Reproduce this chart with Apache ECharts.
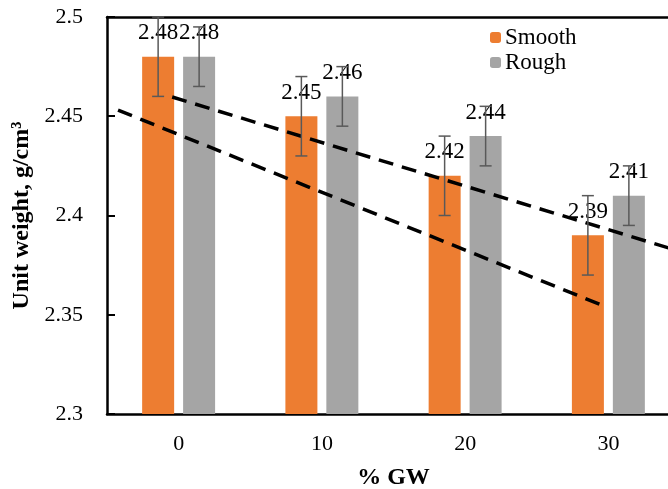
<!DOCTYPE html>
<html>
<head>
<meta charset="utf-8">
<script src="https://cdn.jsdelivr.net/npm/echarts@6/dist/echarts.min.js"></script>
<style>
  html, body { margin: 0; padding: 0; background: #fff; }
  #chart { width: 668px; height: 489px; }
</style>
</head>
<body>
<div id="chart"></div>
<script>
var categories = ['0', '10', '20', '30'];
var smooth = [2.48, 2.45, 2.42, 2.39];
var rough = [2.48, 2.46, 2.44, 2.41];
var smoothErr = [0.02, 0.02, 0.02, 0.02];
var roughErr = [0.015, 0.015, 0.015, 0.015];
// dashed lines, [category position, value]
var upperLine = [[-0.045, 2.4597], [3.423, 2.3836]];
var lowerLine = [[-0.423, 2.4531], [2.969, 2.3544]];

var font = 'Liberation Serif';
var chartDom = document.getElementById('chart');
var myChart = echarts.init(chartDom);

function errorSeries(name, values, errs, offset) {
  return {
    name: name + 'err',
    type: 'custom',
    xAxisIndex: 0,
    data: values.map(function (v, i) { return [i, v - errs[i], v + errs[i]]; }),
    renderItem: function (params, api) {
      var lo = api.coord([api.value(0), api.value(1)]);
      var hi = api.coord([api.value(0), api.value(2)]);
      var x = lo[0] + offset;
      var cap = 6;
      var st = { stroke: '#595959', lineWidth: 1.5 };
      return {
        type: 'group',
        children: [
          { type: 'line', shape: { x1: x, y1: lo[1], x2: x, y2: hi[1] }, style: st },
          { type: 'line', shape: { x1: x - cap, y1: lo[1], x2: x + cap, y2: lo[1] }, style: st },
          { type: 'line', shape: { x1: x - cap, y1: hi[1], x2: x + cap, y2: hi[1] }, style: st }
        ]
      };
    },
    z: 5,
    silent: true
  };
}

function trend(data) {
  return {
    type: 'line',
    xAxisIndex: 1,
    data: data,
    symbol: 'none',
    lineStyle: { color: '#000', width: 3.5, type: [15, 9] },
    z: 4,
    silent: true
  };
}

var labelStyle = {
  show: true,
  position: 'top',
  distance: 12,
  fontFamily: font,
  fontSize: 23,
  color: '#000'
};

var option = {
  animation: false,
  grid: { left: 107, right: -12, top: 17, bottom: 75, containLabel: false, outerBoundsMode: 'none' },
  legend: {
    orient: 'vertical',
    left: 485,
    top: 21,
    itemWidth: 11,
    itemHeight: 11,
    itemGap: 2,
    textStyle: { fontFamily: font, fontSize: 23, color: '#000', padding: [0, 0, 0, -1] },
    data: ['Smooth', 'Rough']
  },
  xAxis: [
    {
      type: 'category',
      data: categories,
      name: '% GW',
      nameLocation: 'middle',
      nameGap: 52,
      nameTextStyle: { fontFamily: font, fontSize: 24, fontWeight: 'bold', color: '#000' },
      axisLine: { lineStyle: { color: '#000', width: 2.5 } },
      axisTick: { show: false },
      axisLabel: { margin: 19, fontFamily: font, fontSize: 22, color: '#000' }
    },
    {
      type: 'value',
      position: 'top',
      min: -0.5,
      max: 3.5,
      axisLine: { show: true, onZero: false, lineStyle: { color: '#000', width: 2.5 } },
      axisTick: { show: false },
      axisLabel: { show: false },
      splitLine: { show: false }
    }
  ],
  yAxis: {
    type: 'value',
    min: 2.3,
    max: 2.5,
    interval: 0.05,
    name: 'Unit weight, g/cm³',
    nameLocation: 'middle',
    nameGap: 62,
    nameTextStyle: { fontFamily: font, fontSize: 24, fontWeight: 'bold', color: '#000' },
    axisLine: { show: true, onZero: false, lineStyle: { color: '#000', width: 2.5 } },
    axisTick: { show: true, inside: true, length: 8, lineStyle: { color: '#000', width: 2 } },
    axisLabel: {
      margin: 24,
      fontFamily: font,
      fontSize: 22,
      color: '#000',
      formatter: function (v) { return String(Math.round(v * 100) / 100); }
    },
    splitLine: { show: false }
  },
  series: [
    {
      name: 'Smooth',
      type: 'bar',
      data: smooth,
      barWidth: 32,
      barGap: '28%',
      itemStyle: { color: '#ED7D31' },
      label: labelStyle
    },
    {
      name: 'Rough',
      type: 'bar',
      data: rough,
      barWidth: 32,
      barGap: '28%',
      itemStyle: { color: '#A5A5A5' },
      label: labelStyle
    },
    errorSeries('Smooth', smooth, smoothErr, -20.5),
    errorSeries('Rough', rough, roughErr, 20.5),
    trend(upperLine),
    trend(lowerLine)
  ]
};

option && myChart.setOption(option);
</script>
</body>
</html>
